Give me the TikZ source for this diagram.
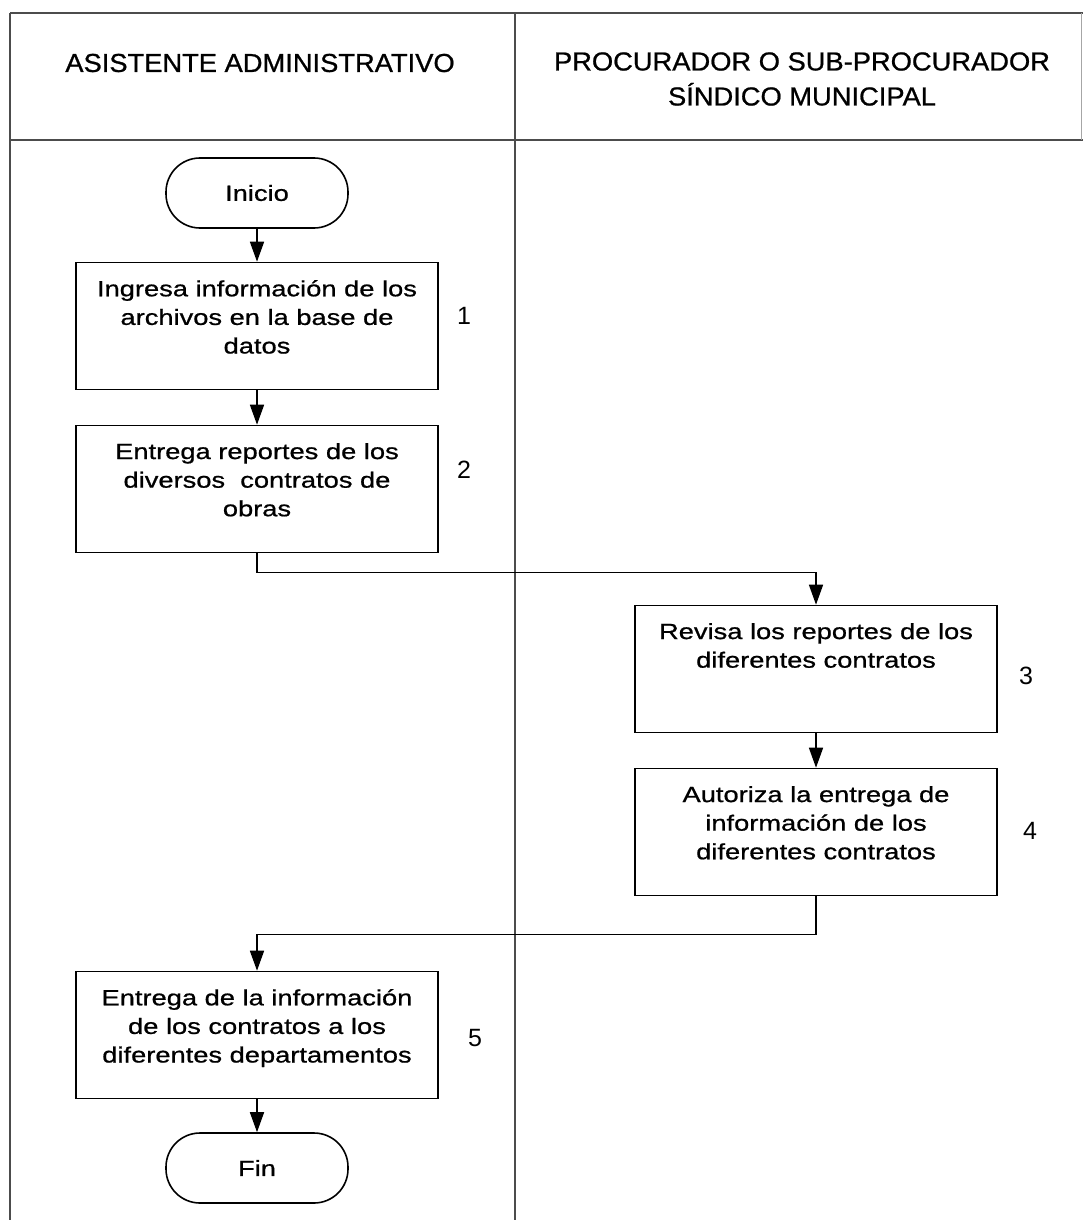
\documentclass[tikz,border=0pt]{standalone}
\usepackage{fontspec}
\setmainfont{Liberation Sans}
\newfontfamily\cajafont[FakeStretch = 1.24, FakeBold = 0.8]{Liberation Sans}
\newfontfamily\titulofont[FakeStretch = 1.05, FakeBold = 0.8]{Liberation Sans}
\usepackage{tikz}
\usetikzlibrary{arrows.meta}

\begin{document}
\begin{tikzpicture}[x = 0.5pt, y = -0.5pt,
        proceso/.style = {draw, line width = 0.8pt, minimum width = 181pt, minimum height = 63.5pt, inner sep = 0pt},
        terminal/.style = {draw, line width = 0.8pt, rounded corners = 17pt, minimum width = 91pt, minimum height = 35pt, font = \cajafont\fontsize{11}{14}\selectfont},
        texto/.style = {anchor = north, align = center, inner sep = 0pt, yshift = -9pt, font = \cajafont\fontsize{11}{14.3}\selectfont},
        titulo/.style = {align = center, font = \titulofont\fontsize{13}{17.5}\selectfont},
        numero/.style = {font = \fontsize{12.5}{14}\selectfont},
        flecha/.style = {line width = 0.8pt, -{Triangle[length = 10pt, width = 7pt]}}
    ]
        \useasboundingbox (0, 0) rectangle (1083, 1220);

        % carriles
        \draw[line width = 0.6pt, color = black!70]
            (10, 13) -- (1083, 13)
            (10, 140) -- (1083, 140)
            (10, 13) -- (10, 1220)
            (515, 13) -- (515, 1220)
        ;
        \draw[line width = 0.5pt, color = black!35] (1081, 13) -- (1081, 140);

        \node[titulo] (asistente) at (260, 63) {ASISTENTE ADMINISTRATIVO};
        \node[titulo] (procurador) at (802, 79) {PROCURADOR O SUB-PROCURADOR\\SÍNDICO MUNICIPAL};

        % pasos
        \node[terminal] (inicio) at (257, 193) {Inicio};
        \node[proceso] (ingresa) at (257, 326) {};
        \node[texto] (ingresa-t) at (ingresa.north) {Ingresa información de los\\archivos en la base de\\datos};
        \node[proceso] (reportes) at (257, 489) {};
        \node[texto] (reportes-t) at (reportes.north) {Entrega reportes de los\\diversos\ \ contratos de\\obras};
        \node[proceso] (revisa) at (816, 669) {};
        \node[texto] (revisa-t) at (revisa.north) {Revisa los reportes de los\\diferentes contratos};
        \node[proceso] (autoriza) at (816, 832) {};
        \node[texto] (autoriza-t) at (autoriza.north) {Autoriza la entrega de\\información de los\\diferentes contratos};
        \node[proceso] (entrega) at (257, 1035) {};
        \node[texto] (entrega-t) at (entrega.north) {Entrega de la información\\de los contratos a los\\diferentes departamentos};
        \node[terminal] (fin) at (257, 1168) {Fin};

        \node[numero] (n1) at (464, 316) {1};
        \node[numero] (n2) at (464, 470) {2};
        \node[numero] (n3) at (1026, 676) {3};
        \node[numero] (n4) at (1030, 831) {4};
        \node[numero] (n5) at (475, 1038) {5};

        \draw[flecha] (inicio) -- (ingresa);
        \draw[flecha] (ingresa) -- (reportes);
        \draw[flecha] (reportes.south) --++ (0, 19) -| (revisa.north);
        \draw[flecha] (revisa) -- (autoriza);
        \draw[flecha] (autoriza.south) --++ (0, 38) -| (entrega.north);
        \draw[flecha] (entrega) -- (fin);

    \end{tikzpicture}
\end{document}
